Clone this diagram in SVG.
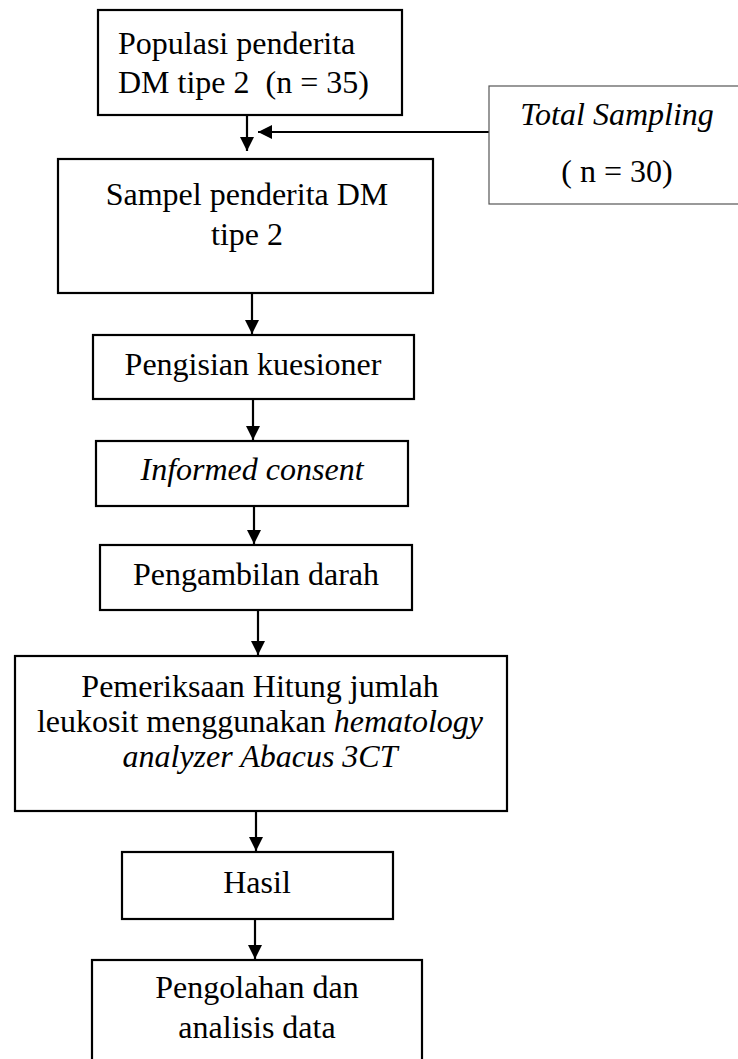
<svg xmlns="http://www.w3.org/2000/svg" width="738" height="1059" viewBox="0 0 738 1059">
<defs>
<style>
.box{fill:#fff;stroke:#000;stroke-width:2.2}
.box2{fill:#fff;stroke:#555;stroke-width:1.2}
.t{font-family:"Liberation Serif","Times New Roman",serif;font-size:32px;fill:#000}
.c{text-anchor:middle}
.i{font-style:italic}
.ln{stroke:#000;stroke-width:2.2;fill:none}
</style>
<marker id="ah" viewBox="0 0 10 10" refX="10" refY="5" markerWidth="6.5" markerHeight="6.5" markerUnits="strokeWidth" orient="auto">
<path d="M0,0 L10,5 L0,10 z" fill="#000"/>
</marker>
</defs>
<rect width="738" height="1059" fill="#fff"/>
<g id="connectors">
<line class="ln" x1="247" y1="115" x2="247" y2="151" marker-end="url(#ah)"/>
<line class="ln" x1="489" y1="132" x2="258" y2="132" marker-end="url(#ah)"/>
<line class="ln" x1="252" y1="293" x2="252" y2="334" marker-end="url(#ah)"/>
<line class="ln" x1="253" y1="399" x2="253" y2="440" marker-end="url(#ah)"/>
<line class="ln" x1="254" y1="506" x2="254" y2="544" marker-end="url(#ah)"/>
<line class="ln" x1="258" y1="610" x2="258" y2="655" marker-end="url(#ah)"/>
<line class="ln" x1="256" y1="811" x2="256" y2="851" marker-end="url(#ah)"/>
<line class="ln" x1="255" y1="919" x2="255" y2="959" marker-end="url(#ah)"/>
</g>
<g id="n1">
<rect class="box" x="98" y="10" width="304" height="105"/>
<text class="t" x="118" y="54">Populasi penderita</text>
<text class="t" x="118" y="93" xml:space="preserve">DM tipe 2  (n = 35)</text>
</g>
<g id="n_total">
<rect class="box2" x="489" y="86" width="260" height="118"/>
<text class="t c i" x="617" y="125">Total Sampling</text>
<text class="t c" x="617" y="182">( n = 30)</text>
</g>
<g id="n2">
<rect class="box" x="58" y="159" width="375" height="134"/>
<text class="t c" x="247" y="205">Sampel penderita DM</text>
<text class="t c" x="247" y="245">tipe 2</text>
</g>
<g id="n3">
<rect class="box" x="93" y="335" width="321" height="64"/>
<text class="t c" x="253" y="375">Pengisian kuesioner</text>
</g>
<g id="n4">
<rect class="box" x="96" y="441" width="312" height="65"/>
<text class="t c i" x="252" y="480">Informed consent</text>
</g>
<g id="n5">
<rect class="box" x="100" y="545" width="312" height="65"/>
<text class="t c" x="256" y="585">Pengambilan darah</text>
</g>
<g id="n6">
<rect class="box" x="15" y="656" width="492" height="155"/>
<text class="t c" x="260" y="697">Pemeriksaan Hitung jumlah</text>
<text class="t c" x="260" y="732">leukosit menggunakan <tspan class="i">hematology</tspan></text>
<text class="t c i" x="260" y="767">analyzer Abacus 3CT</text>
</g>
<g id="n7">
<rect class="box" x="122" y="852" width="271" height="67"/>
<text class="t c" x="257" y="893">Hasil</text>
</g>
<g id="n8">
<rect class="box" x="92" y="960" width="330" height="110"/>
<text class="t c" x="257" y="998">Pengolahan dan</text>
<text class="t c" x="257" y="1038">analisis data</text>
</g>
</svg>
